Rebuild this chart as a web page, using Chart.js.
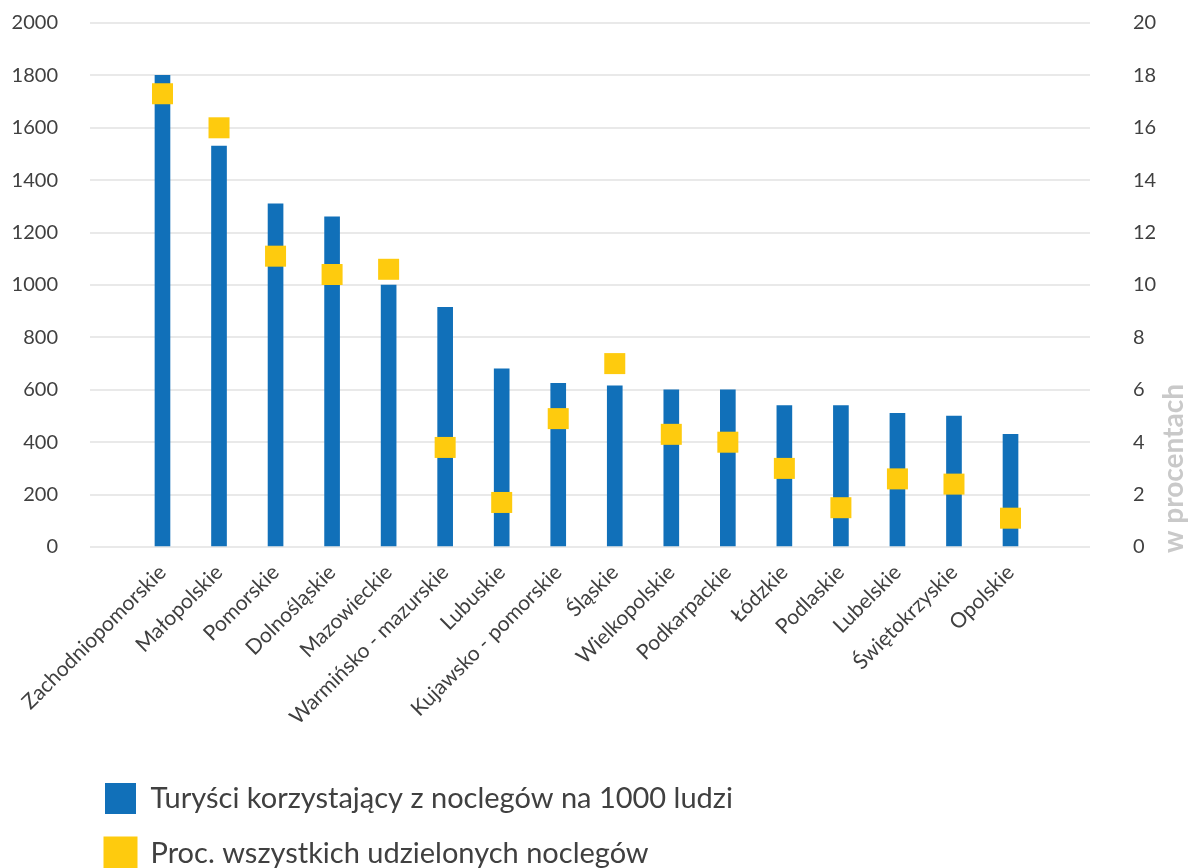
<!DOCTYPE html>
<html lang="pl">
<head>
<meta charset="utf-8">
<title>Noclegi wg województw</title>
<script src="https://cdn.jsdelivr.net/npm/chart.js@4.4.1/dist/chart.umd.min.js"></script>
<style>
    html, body { margin: 0; padding: 0; background: #fff; overflow: hidden; }
    #wrap { width: 1190px; height: 879px; }
</style>
</head>
<body>
<div id="wrap"><canvas id="wykres" width="1190" height="879"></canvas></div>
<script>
const categories = [
    "Zachodniopomorskie", "Małopolskie", "Pomorskie", "Dolnośląskie", "Mazowieckie",
    "Warmińsko - mazurskie", "Lubuskie", "Kujawsko - pomorskie", "Śląskie", "Wielkopolskie",
    "Podkarpackie", "Łódzkie", "Podlaskie", "Lubelskie", "Świętokrzyskie", "Opolskie"
];
const tourists = [1800, 1530, 1310, 1260, 1000, 915, 680, 625, 615, 600, 600, 540, 540, 510, 500, 430];
const shares = [17.3, 16.0, 11.1, 10.4, 10.6, 3.8, 1.7, 4.9, 7.0, 4.3, 4.0, 3.0, 1.5, 2.6, 2.4, 1.1];
const leftTicks = [0, 200, 400, 600, 800, 1000, 1200, 1400, 1600, 1800, 2000];
const rightTicks = [0, 2, 4, 6, 8, 10, 12, 14, 16, 18, 20];
const seriesNames = ["Turyści korzystający z noclegów na 1000 ludzi", "Proc. wszystkich udzielonych noclegów"];
const rightTitle = "w procentach";

const NIEBIESKI = "#1170b9";
const ZOLTY = "#fecb0e";
const TEKST = "#404040";

Chart.defaults.font.family = "Lato, 'Open Sans', sans-serif";
Chart.defaults.color = TEKST;

// podpis prawej osi, czytany od dołu do góry
const tytulPrawejOsi = {
    id: "tytulPrawejOsi",
    afterDraw(chart) {
        const ctx = chart.ctx;
        const area = chart.chartArea;
        ctx.save();
        ctx.translate(1183, area.bottom + 6);
        ctx.rotate(-Math.PI / 2);
        ctx.font = "bold 28px Lato";
        ctx.fillStyle = "#c9c9c9";
        ctx.textAlign = "left";
        ctx.textBaseline = "alphabetic";
        ctx.fillText(rightTitle, 0, 0);
        ctx.restore();
    }
};

// legenda zaczyna się trochę przed lewą krawędzią wykresu
const przesunLegende = {
    id: "przesunLegende",
    afterLayout(chart) {
        if (!chart.legend) return;
        chart.legend.left -= 9;
        chart.legend.right -= 9;
    }
};

// padding etykiet nie ma przesuwać obszaru wykresu w pionie
function bezZapasu(scale) {
    scale.paddingTop = 8;
    scale.paddingBottom = 8;
}

const punktyX = categories.map((_, i) => i);

new Chart(document.getElementById("wykres").getContext("2d"), {
    type: "bar",
    data: {
        datasets: [
            {
                label: seriesNames[0],
                data: punktyX.map((x) => ({ x: x, y: tourists[x] })),
                backgroundColor: NIEBIESKI,
                barThickness: 15,
                yAxisID: "y",
                order: 2
            },
            {
                type: "line",
                label: seriesNames[1],
                data: punktyX.map((x) => ({ x: x, y: shares[x] })),
                showLine: false,
                pointStyle: "rect",
                pointRadius: 14.85,
                pointHoverRadius: 14.85,
                pointBorderWidth: 0,
                backgroundColor: ZOLTY,
                borderColor: ZOLTY,
                yAxisID: "y2",
                order: 1
            }
        ]
    },
    options: {
        responsive: false,
        animation: false,
        layout: { padding: { top: 23, left: 0, right: 0, bottom: 0 } },
        plugins: {
            tooltip: { enabled: false },
            legend: {
                position: "bottom",
                align: "start",
                fullSize: false,
                labels: {
                    boxWidth: 31,
                    boxHeight: 31,
                    padding: 24,
                    color: TEKST,
                    font: { size: 29 },
                    sort: (a, b) => a.datasetIndex - b.datasetIndex
                }
            }
        },
        scales: {
            x: {
                type: "linear",
                offset: false,
                min: -1.282,
                max: 16.406,
                grid: { display: false, drawTicks: false },
                border: { display: false },
                afterFit: (scale) => { scale.height = 212; },
                ticks: {
                    stepSize: 1,
                    includeBounds: false,
                    autoSkip: false,
                    maxRotation: 45,
                    minRotation: 45,
                    padding: 13,
                    color: TEKST,
                    font: { size: 21 },
                    callback: (v) => categories[v] ?? ""
                }
            },
            y: {
                position: "left",
                min: 0,
                max: 2000,
                afterFit: (scale) => { scale.width = 90; bezZapasu(scale); },
                afterBuildTicks: (scale) => { scale.ticks = leftTicks.map((v) => ({ value: v })); },
                grid: { color: "#e9e9e9", lineWidth: 2, drawTicks: false },
                border: { display: false },
                ticks: { padding: 32, color: TEKST, font: { size: 20 }, callback: (v) => String(v) }
            },
            y2: {
                position: "right",
                min: 0,
                max: 20,
                afterFit: (scale) => { scale.width = 100; bezZapasu(scale); },
                afterBuildTicks: (scale) => { scale.ticks = rightTicks.map((v) => ({ value: v })); },
                grid: { display: false, drawTicks: false },
                border: { display: false },
                ticks: { padding: 43, color: TEKST, font: { size: 20 }, callback: (v) => String(v) }
            }
        }
    },
    plugins: [tytulPrawejOsi, przesunLegende]
});
</script>
</body>
</html>
